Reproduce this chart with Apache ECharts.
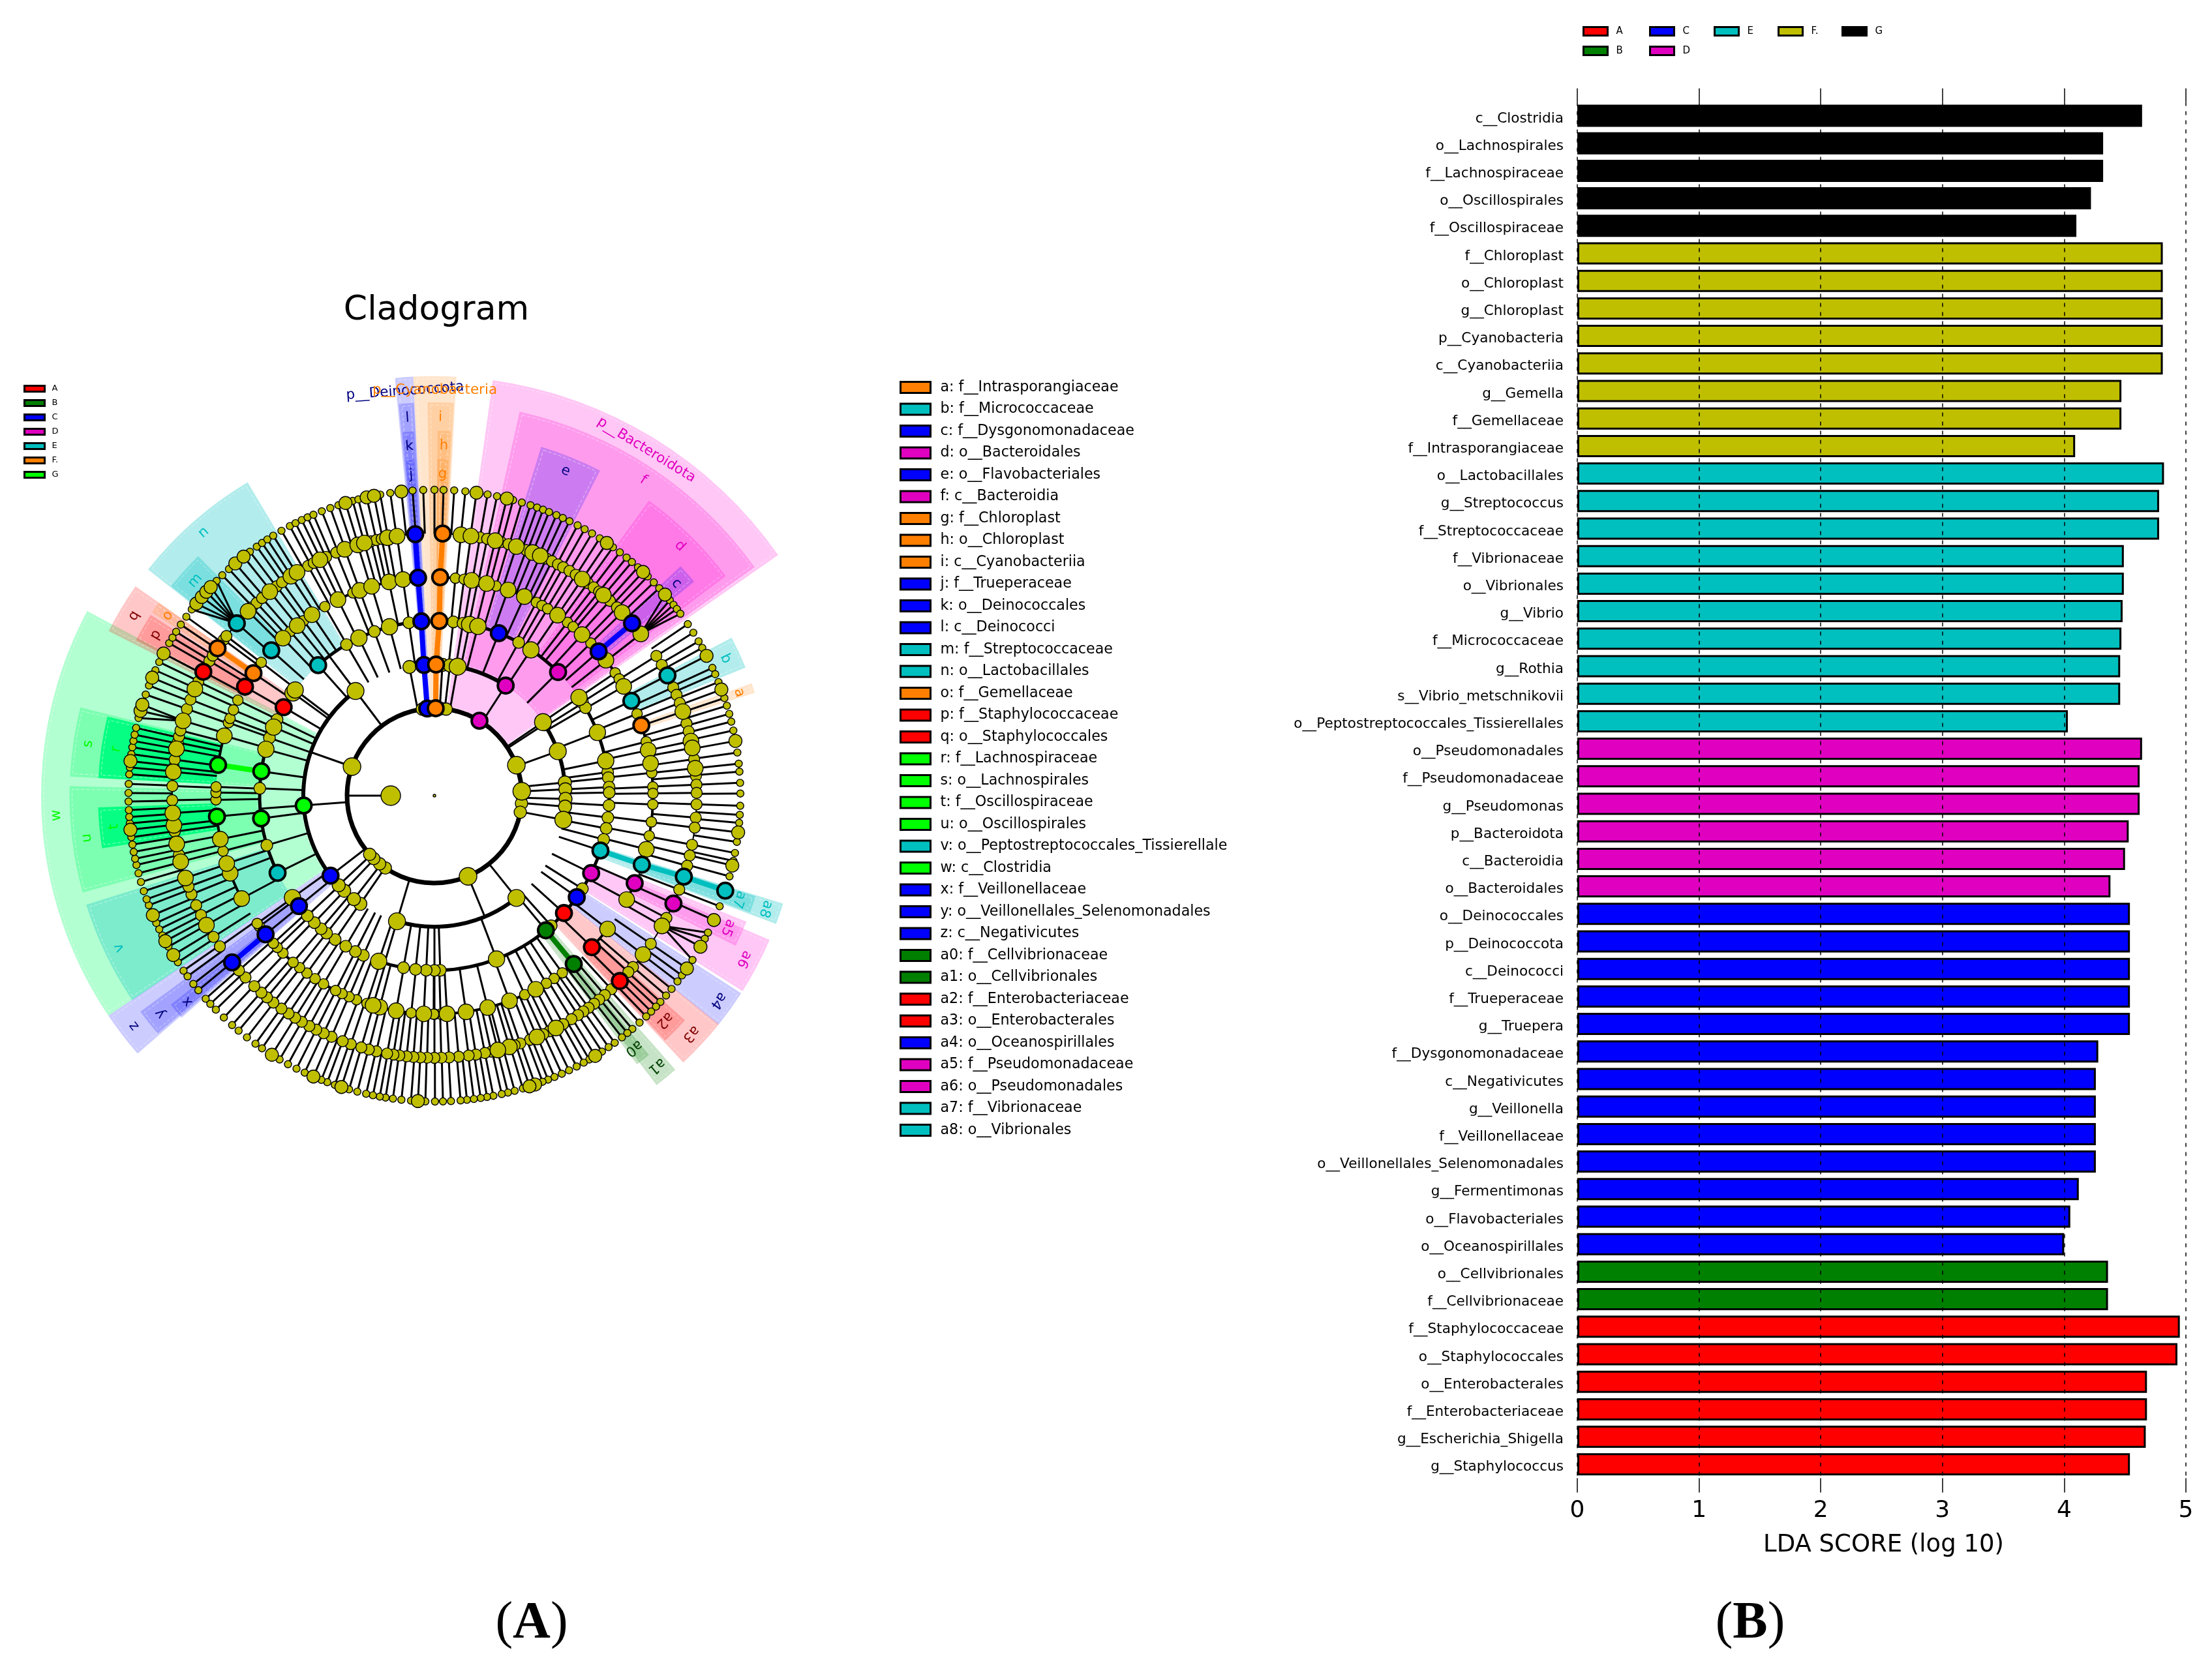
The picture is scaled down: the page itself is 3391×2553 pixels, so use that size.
<!DOCTYPE html>
<html><head><meta charset="utf-8">
<script src="https://cdn.jsdelivr.net/npm/echarts@6/dist/echarts.min.js"></script>
<style>html,body{margin:0;padding:0;background:#fff}#c{width:3391px;height:2553px}</style>
</head><body><div id="c"></div>
<script>
// ---------- LDA bar data ----------
const barNames = ['c__Clostridia','o__Lachnospirales','f__Lachnospiraceae','o__Oscillospirales','f__Oscillospiraceae','f__Chloroplast','o__Chloroplast','g__Chloroplast','p__Cyanobacteria','c__Cyanobacteriia','g__Gemella','f__Gemellaceae','f__Intrasporangiaceae','o__Lactobacillales','g__Streptococcus','f__Streptococcaceae','f__Vibrionaceae','o__Vibrionales','g__Vibrio','f__Micrococcaceae','g__Rothia','s__Vibrio_metschnikovii','o__Peptostreptococcales_Tissierellales','o__Pseudomonadales','f__Pseudomonadaceae','g__Pseudomonas','p__Bacteroidota','c__Bacteroidia','o__Bacteroidales','o__Deinococcales','p__Deinococcota','c__Deinococci','f__Trueperaceae','g__Truepera','f__Dysgonomonadaceae','c__Negativicutes','g__Veillonella','f__Veillonellaceae','o__Veillonellales_Selenomonadales','g__Fermentimonas','o__Flavobacteriales','o__Oceanospirillales','o__Cellvibrionales','f__Cellvibrionaceae','f__Staphylococcaceae','o__Staphylococcales','o__Enterobacterales','f__Enterobacteriaceae','g__Escherichia_Shigella','g__Staphylococcus'];
const barScores = [4.64,4.32,4.32,4.22,4.10,4.81,4.81,4.81,4.81,4.81,4.47,4.47,4.09,4.82,4.78,4.78,4.49,4.49,4.48,4.47,4.46,4.46,4.03,4.64,4.62,4.62,4.53,4.50,4.38,4.54,4.54,4.54,4.54,4.54,4.28,4.26,4.26,4.26,4.26,4.12,4.05,4.00,4.36,4.36,4.95,4.93,4.68,4.68,4.67,4.54];
const barGroups = ['G','G','G','G','G','F','F','F','F','F','F','F','F','E','E','E','E','E','E','E','E','E','E','D','D','D','D','D','D','C','C','C','C','C','C','C','C','C','C','C','C','C','B','B','A','A','A','A','A','A'];
const groupNames = {A:'A',B:'B',C:'C',D:'D',E:'E',F:'F.',G:'G'};
const xTicks = [0,1,2,3,4,5];

// ---------- cladogram: node angles (degrees clockwise from top) on each ring ----------
const ring7 = [0,1.7,3.7,5.8,10,11.8,14.9,16.6,18.3,19.6,20.8,22,23.5,24.8,26.2,27.9,29.4,31,32.7,35.7,37.3,38.9,40.2,41.7,44.2,45.8,47.3,50.3,51.4,52.4,53.5,55.9,57.8,59.7,61.1,65.3,66.6,68.2,71.4,72.9,74.5,76,77.7,81.9,84,85.5,87.6,89.6,91.9,93.6,95.1,98.7,100.8,102.3,105.3,111.2,116.6,117.9,122.5,126,127.4,129.2,130.8,132.4,133.6,134.9,136.2,137.9,139.7,140.9,142.2,143.9,145.3,146.8,149.6,150.8,152.3,153.9,155.4,156.9,158.2,159.3,163.2,164.8,166.1,167.3,168.9,170.1,171.3,172.6,173.9,175.1,176.9,178.4,179.9,181.7,184.4,186.2,187.8,189.2,190.3,191.6,192.9,194.6,196.2,199,200.5,201.7,205.1,206.8,208.6,210.4,214.3,215.8,217.8,219.8,221.4,223.5,225.6,227.1,228.4,230.5,232,233.8,235.1,237,240.4,242.8,244.1,245.4,249,250.2,251.8,253.6,255.3,256.9,258.1,259.4,260.8,262.2,264.8,266,267.3,268.9,270.5,272.2,274,275.3,277.8,279.1,280.3,281.5,282.8,284.7,289.3,291.1,294.2,295.9,299.9,301.1,302.4,304,305.8,307.5,314.6,316.1,317.8,322.9,324.5,325.7,326.9,328.2,330,331.8,333,334.3,335.5,336.7,338.4,340.1,341.7,344.5,345.6,349.8,351.7,355.9,357.9];
const ring7Big = [7.9,13.7,34.3,43,48.9,62.8,69.7,79.7,96.9,103.2,114,119.6,124.4,148.3,160.8,161.9,183.1,197.7,203.3,212.1,238.6,241.6,247,263.6,276.5,286.1,287.3,292.7,297.7,308.9,310.5,311.8,313,319.4,321.4,343.1,347.2,348.6,353.8];
const ring6 = [10,11.6,14.7,16.4,20.5,25.3,26.6,28.1,29.4,31,32.6,35.8,37.4,38.9,42,44.1,57.8,60.1,65.6,67.4,69.3,74,75.8,82,85.7,87.6,89.4,91.9,94.8,97,100.8,103.2,105.5,111,117.8,124.4,130.8,132.3,137.6,139.5,141.1,142.5,144,145.4,146.8,148.5,150.6,154,155.5,158.6,160.9,162.2,165.2,167.5,168.9,170.9,172.5,174.7,176.8,178.5,180,181.6,183.1,184.6,186.1,187.7,189,190.4,192.8,194.5,196.2,198.6,200.5,203.1,205,206.8,208.5,210.4,212.1,213.8,215.7,217.9,219.7,221.3,223.4,226.1,228.2,234.9,237.4,242.9,245.3,247.9,249.7,257,262.1,269,272.1,276.2,277.9,281.7,283,284.4,289.3,291.5,295.8,300.9,302.3,306.5,307.5,315.9,317.3,318.9,323,324.5,331.2,332.6,335.6,338,346,347.2,348.4];
const ring6Big = [5.8,8,13.4,18.2,22,23.8,34.3,40.1,45.7,51.9,71.3,78,79.5,84,119.8,127.3,152.4,157,163.4,166,240.4,251.7,255.4,259.4,263.5,266.2,275.2,280.3,286.6,294,314.7,321.1,326.8,328.4,334.1,340,343,344.5,349.7,351.8];
const ring5 = [5.5,7.8,11.4,16.4,27.8,29.5,31.2,37.5,39.4,45.7,55.8,57.7,68,75.7,84,87.7,89.4,92.3,96.9,100.6,144.2,146.8,149.2,155.6,178.4,180,180.2,186.1,198,200.9,203,205,206.9,210.5,213.1,215.7,218.1,220.3,223.9,226,227.5,233.2,234.2,255.3,268.9,270.8,272.3,289.5,290.7,293.1,295.9,307.6,318.7,323.2,329.9,338.1];
const ring5Big = [9.8,13.8,19.7,24.3,34.3,42.5,51.7,60,78,81.5,104.2,118.4,127.6,152.4,159.9,165.9,171.7,176.7,182.8,190.1,194.5,196.3,241.9,249.2,251.9,258.5,285.9,316.1,321.1,325.9,333.8,340,343.3,348,351.7];
const ring4 = [6.2,9.4,28.8,58,59.8,82.3,84.1,87.2,89,93.2,97.2,100.8,104.5,122.2,138.1,178.1,180,182.7,186.2,190.2,204,206.9,210.5,214.6,218.1,220.4,223.4,226.6,253.5,272.4,289.3,295.8,329.8,339.9,351.6];
const ring4Big = [11.6,14.4,33.5,55.8,68.8,78.5,159.2,198.6,234.3,285.4,293.1,306,307.2,334.4,345.1];
const ring3 = [3.5,6.8,57,84.2,87.2,91.4,94.8,214.4,217.9,223.5,226.9,349];
const ring3Big = [10.2,55.9,70.2,100.6,141.3,196.6,323];
const ring2 = [4.6,7.7,90,95.1,100.9,214.2,218.8,224,227.8,352];
const ring2Big = [69.6,87.1,157.4,289.4];
const ring1Big = [270];

// biomarker nodes: level, angle, group
const biomarkers = [[2,355.3,'C'],[3,355.4,'C'],[4,355.7,'C'],[5,355.7,'C'],[6,355.8,'C'],[2,0.8,'F'],[3,0.7,'F'],[4,1.6,'F'],[5,1.5,'F'],[6,1.8,'F'],[2,31,'D'],[3,32.9,'D'],[4,45,'D'],[4,21.6,'C'],[5,48.7,'C'],[6,48.9,'C'],[5,64.3,'E'],[6,62.7,'E'],[5,71.2,'F'],[4,108.3,'E'],[5,108.4,'E'],[6,108,'E'],[7,108.1,'E'],[4,116.3,'D'],[5,113.6,'D'],[6,114.3,'D'],[4,125.5,'C'],[4,132.2,'A'],[5,133.9,'A'],[6,135,'A'],[4,140.4,'B'],[5,140.4,'B'],[3,232.4,'C'],[4,230.8,'C'],[5,230.6,'C'],[6,230.5,'C'],[4,243.8,'E'],[3,265.7,'G'],[4,262.5,'G'],[5,264.5,'G'],[4,278,'G'],[5,278.1,'G'],[4,300.4,'A'],[5,299.9,'A'],[6,298.2,'A'],[5,304.1,'F'],[6,304.2,'F'],[4,318.3,'E'],[5,311.7,'E'],[6,311.1,'E']];

// coloured branches: level0, angle0, level1, angle1, group
const colorBranches = [[2,355.3,3,355.4,'C'],[3,355.4,4,355.7,'C'],[4,355.7,5,355.7,'C'],[5,355.7,6,355.8,'C'],[2,0.8,3,0.7,'F'],[3,0.7,4,1.6,'F'],[4,1.6,5,1.5,'F'],[5,1.5,6,1.8,'F'],[5,48.7,6,48.9,'C'],[4,108.3,5,108.4,'E'],[5,108.4,6,108,'E'],[6,108,7,108.1,'E'],[4,140.4,5,140.4,'B'],[5,230.6,6,230.5,'C'],[4,278,5,278.1,'G'],[5,304.1,6,304.2,'F']];

// arcs joining siblings: level, from, to
const arcs = [[2,0.8,355.3],[3,0.7,10.2],[3,10.2,32.9],[3,55.9,100.6],[3,141.3,196.6],[3,214.4,226.9],[3,232.4,323],[4,1.6,45],[4,55.8,140.4],[4,140.4,178.1],[4,182.7,198.6],[4,204,234.3],[4,243.8,300.4],[4,318.3,355.7],[5,1.5,48.7],[5,48.7,60],[5,64.3,108.4],[5,113.6,118.4],[5,127.6,133.9],[5,140.4,180],[5,180.2,230.6],[5,241.9,264.5],[5,278.1,295.9],[5,299.9,307.6],[5,316.1,325.9],[5,333.8,355.7],[6,1.8,48.9],[6,57.8,135],[6,135,230.5],[6,234.9,298.2],[6,304.2,311.1],[6,314.7,355.8]];

// fans: parent level, parent angle, leaf angles on next ring
const fans = [[6,311.1,[307.5,308.9,310.5,311.8,313,314.6]],[6,51.9,[48.9,50.3,51.4,52.4,53.5]],[6,286.6,[284.7,286.1,287.3]],[6,119.8,[116.6,117.9,119.6,122.5]]];
// other thin branches: level0, angle0, level1, angle1
const thinBranches = [[1,270,2,270],[2,289.4,3,289.4],[2,157.4,3,157.4],[3,196.6,4,196.6],[3,323,4,323],[3,265.7,4,265.7]];

// shaded clade sectors: label, from, to, inner level, outer level, group
const sectors = [
['p__Deinococcota',354.6,357.1,2,9.6,'C'],['l',354.8,357,3,9,'C'],['k',355,356.8,4,8.35,'C'],['j',355.1,356.6,5,7.7,'C'],
['p__Cyanobacteria',357.1,3,2,9.6,'F'],['i',359,2.8,3,9,'F'],['h',0.5,2.6,4,8.35,'F'],['g',0.5,2.4,5,7.7,'F'],
['p__Bacteroidota',8,55,2,9.6,'D'],['f',12.5,54.5,3,9,'D'],['e',17,27,4,8.35,'C'],['d',36,53,4,8.35,'D'],['c',47,50.5,5,7.7,'C'],
['b',62,67.6,5,7.7,'E'],['a',70.5,72.2,5,7.7,'F'],
['a8',107.2,110.6,4,8.35,'E'],['a7',107.4,110.3,5,7.7,'E'],['a6',113.3,122.4,4,8.35,'D'],['a5',112,116.5,5,7.7,'D'],['a4',122.8,128.9,4,8.35,'C'],['a3',128.8,137,4,8.35,'A'],['a2',131.9,136.7,5,7.7,'A'],['a1',138.7,142.5,4,8.35,'B'],['a0',140.4,143,5,7.7,'B'],
['z',229,236,3,9,'C'],['y',229.3,233.7,4,8.35,'C'],['x',228.7,231.6,5,7.7,'C'],
['w',236,298,3,9,'G'],['v',235.9,252.6,4,8.35,'E'],['u',254.6,271.5,4,8.35,'G'],['t',261,268,5,7.7,'G'],['s',273,284,4,8.35,'G'],['r',273,283.6,5,7.7,'G'],
['q',296.8,305,4,8.35,'A'],['p',297.5,302.5,5,7.7,'A'],['o',303,305,5,7.7,'F'],['n',308.3,329.2,4,8.35,'E'],['m',308.5,315.4,5,7.7,'E']];

// key of the cladogram letters
const cladeKey = [['a: f__Intrasporangiaceae','F'],['b: f__Micrococcaceae','E'],['c: f__Dysgonomonadaceae','C'],['d: o__Bacteroidales','D'],['e: o__Flavobacteriales','C'],['f: c__Bacteroidia','D'],['g: f__Chloroplast','F'],['h: o__Chloroplast','F'],['i: c__Cyanobacteriia','F'],['j: f__Trueperaceae','C'],['k: o__Deinococcales','C'],['l: c__Deinococci','C'],['m: f__Streptococcaceae','E'],['n: o__Lactobacillales','E'],['o: f__Gemellaceae','F'],['p: f__Staphylococcaceae','A'],['q: o__Staphylococcales','A'],['r: f__Lachnospiraceae','G'],['s: o__Lachnospirales','G'],['t: f__Oscillospiraceae','G'],['u: o__Oscillospirales','G'],['v: o__Peptostreptococcales_Tissierellale','E'],['w: c__Clostridia','G'],['x: f__Veillonellaceae','C'],['y: o__Veillonellales_Selenomonadales','C'],['z: c__Negativicutes','C'],['a0: f__Cellvibrionaceae','B'],['a1: o__Cellvibrionales','B'],['a2: f__Enterobacteriaceae','A'],['a3: o__Enterobacterales','A'],['a4: o__Oceanospirillales','C'],['a5: f__Pseudomonadaceae','D'],['a6: o__Pseudomonadales','D'],['a7: f__Vibrionaceae','E'],['a8: o__Vibrionales','E']];

// ---------- styling ----------
const FONT = 'DejaVu Sans';
const barColor = {A:'#ff0000',B:'#008000',C:'#0000ff',D:'#e000c0',E:'#00bfbf',F:'#bfbf00',G:'#000000'};
const cladeColor = {A:'#ff0000',B:'#007f00',C:'#0000ff',D:'#e000c0',E:'#00bfbf',F:'#ff7f00',G:'#00ff00'};
const shadeColor = {A:'#ff0000',B:'#007f00',C:'#0000ff',D:'#ff00d0',E:'#00bfbf',F:'#ff7f00',G:'#00ff66'};
const shadeAlpha = {A:0.22,B:0.22,C:0.2,D:0.22,E:0.3,F:0.2,G:0.3};
const labelColor = {A:'#800000',B:'#004000',C:'#000080',D:'#e000c0',E:'#00bfbf',F:'#ff7f00',G:'#00ff00'};
const OLIVE = '#bfbf00';
const arcWidth = {2:7,3:6,4:5,5:4,6:2};
const smallSize = {2:19,3:20,4:18,5:16,6:17,7:11};
const bigSize = {1:30,2:27,3:26,4:25,5:24,6:24,7:20};

const rad = a => (a-90)*Math.PI/180;
function pxR(api,l){const c=api.coord([0,0]),p=api.coord([l,0]);return Math.hypot(p[0]-c[0],p[1]-c[1]);}

// sector layer
const sectorData = sectors.map(s=>{const a1=s[2]<s[1]?s[2]+360:s[2];return [s[3],s[1],s[4],a1];});
const sectorSeries = {type:'custom',coordinateSystem:'polar',silent:true,clip:false,z:1,data:sectorData,
  renderItem:(p,api)=>{const s=sectors[p.dataIndex],c=p.coordSys,r0=pxR(api,api.value(0)),r=pxR(api,api.value(2)),a0=api.value(1),a1=api.value(3);
    const strong=(s[5]==='G'&&s[3]===5);
    const inset=3/r;
    return {type:'group',children:[
      {type:'sector',shape:{cx:c.cx,cy:c.cy,r0,r,startAngle:rad(a0),endAngle:rad(a1),clockwise:true},style:{fill:strong?'#00ff80':shadeColor[s[5]],opacity:strong?0.95:shadeAlpha[s[5]]}},
      {type:'sector',shape:{cx:c.cx,cy:c.cy,r0:r0+4,r:r-4,startAngle:rad(a0)+inset*1.6,endAngle:rad(a1)-inset*1.6,clockwise:true},style:{fill:'none',stroke:'#fff',lineWidth:1,lineDash:[5,3],opacity:0.5}}
    ]};}};

// arc layer
const arcSeries = {type:'custom',coordinateSystem:'polar',silent:true,clip:false,z:2,data:arcs,
  renderItem:(p,api)=>{const c=p.coordSys,l=api.value(0);return {type:'arc',shape:{cx:c.cx,cy:c.cy,r:pxR(api,l),startAngle:rad(api.value(1)),endAngle:rad(api.value(2)),clockwise:true},style:{fill:'none',stroke:'#000',lineWidth:arcWidth[l]}};}};

// spokes: every node to the ring below, except fan leaves which meet their parent
const fanLeaves = new Set(fans.flatMap(f=>f[2]));
const allRings = {3:ring3.concat(ring3Big),4:ring4.concat(ring4Big),5:ring5.concat(ring5Big),6:ring6.concat(ring6Big),7:ring7.concat(ring7Big)};
biomarkers.forEach(b=>{if(b[0]>=3)allRings[b[0]].push(b[1]);});
const spokeData = [];
for(const k of [3,4,5,6,7]){allRings[k].forEach(a=>{if(!(k===7&&fanLeaves.has(a)))spokeData.push([k-1,a,k,a]);});}
fans.forEach(f=>f[2].forEach(a=>spokeData.push([f[0],f[1],f[0]+1,a])));
thinBranches.forEach(t=>spokeData.push(t));
const spokeSeries = {type:'custom',coordinateSystem:'polar',silent:true,clip:false,z:2,data:spokeData,
  renderItem:(p,api)=>{const a=api.coord([api.value(0),api.value(1)]),b=api.coord([api.value(2),api.value(3)]);return {type:'line',shape:{x1:a[0],y1:a[1],x2:b[0],y2:b[1]},style:{stroke:'#000',lineWidth:3}};}};
const branchSeries = {type:'custom',coordinateSystem:'polar',silent:true,clip:false,z:3,data:colorBranches.map(b=>b.slice(0,4)),
  renderItem:(p,api)=>{const a=api.coord([api.value(0),api.value(1)]),b=api.coord([api.value(2),api.value(3)]);return {type:'line',shape:{x1:a[0],y1:a[1],x2:b[0],y2:b[1]},style:{stroke:cladeColor[colorBranches[p.dataIndex][4]],lineWidth:8}};}};

// nodes
function nodeSeries(level,angles,size){return {type:'scatter',coordinateSystem:'polar',silent:true,clip:false,z:4,symbol:'circle',symbolSize:size,data:angles.map(a=>[level,a]),itemStyle:{color:OLIVE,borderColor:'#000',borderWidth:1.4,opacity:1}};}
const nodes = [
 nodeSeries(7,ring7,smallSize[7]),nodeSeries(7,ring7Big,bigSize[7]),
 nodeSeries(6,ring6,smallSize[6]),nodeSeries(6,ring6Big,bigSize[6]),
 nodeSeries(5,ring5,smallSize[5]),nodeSeries(5,ring5Big,bigSize[5]),
 nodeSeries(4,ring4,smallSize[4]),nodeSeries(4,ring4Big,bigSize[4]),
 nodeSeries(3,ring3,smallSize[3]),nodeSeries(3,ring3Big,bigSize[3]),
 nodeSeries(2,ring2,smallSize[2]),nodeSeries(2,ring2Big,bigSize[2]),
 nodeSeries(1,ring1Big,bigSize[1]),
 nodeSeries(0,[0],4)];
const biomarkerSeries = {type:'scatter',coordinateSystem:'polar',silent:true,clip:false,z:5,symbol:'circle',
  symbolSize:24,data:biomarkers.map(b=>({value:[b[0],b[1]],itemStyle:{color:cladeColor[b[2]]}})),itemStyle:{borderColor:'#000',borderWidth:3.8,opacity:1}};

// clade labels
const labelSeries = {type:'custom',coordinateSystem:'polar',silent:true,clip:false,z:6,
  data:sectors.map(s=>{const a1=s[2]<s[1]?s[2]+360:s[2];return [s[4]-(s[0].length>3?0.32:0.34),(s[1]+a1)/2];}),
  renderItem:(p,api)=>{const s=sectors[p.dataIndex],a=api.value(1),q=api.coord([api.value(0),a]);
    return {type:'text',x:q[0],y:q[1],rotation:-a*Math.PI/180,style:{text:s[0],fill:labelColor[s[5]],fontFamily:FONT,fontSize:21.5,align:'center',verticalAlign:'middle'}};}};

// legends use empty series carrying their names
const dummy = n => ({type:'scatter',name:n,coordinateSystem:'polar',data:[]});
const legendItem = (name,color) => ({name,icon:'rect',itemStyle:{color,borderColor:'#000',borderWidth:3,opacity:1}});
const groupKeys = ['A','B','C','D','E','F','G'];
const miniLegend = {orient:'vertical',left:36,top:589,itemWidth:31,itemHeight:9,itemGap:8,selectedMode:false,padding:0,
  textStyle:{fontFamily:FONT,fontSize:13,color:'#000',lineHeight:14,padding:[0,0,0,6]},data:groupKeys.map(k=>legendItem(groupNames[k],cladeColor[k]))};
const keyLegend = {orient:'vertical',left:1379,top:583,itemWidth:46,itemHeight:17,itemGap:11.5,selectedMode:false,padding:0,
  textStyle:{fontFamily:FONT,fontSize:22.2,color:'#000',lineHeight:20,padding:[0,0,0,10]},data:cladeKey.map(k=>legendItem(k[0],cladeColor[k[1]]))};
const barLegendColumns = [[2426,['A','B']],[2528,['C','D']],[2627,['E']],[2725,['F']],[2823,['G']]];
const barLegends = barLegendColumns.map(c=>({orient:'vertical',left:c[0],top:40,itemWidth:37,itemHeight:13,itemGap:14,selectedMode:false,padding:0,
  textStyle:{fontFamily:FONT,fontSize:15,color:'#000',lineHeight:14,padding:[0,0,0,8]},data:c[1].map(k=>legendItem(groupNames[k],barColor[k]))}));

const parenRich = {p:{fontFamily:'Liberation Serif',fontSize:80,fontWeight:'normal',color:'#000'},b:{fontFamily:'Liberation Serif',fontSize:80,fontWeight:'bold',color:'#000'}};
const option = {
  backgroundColor:'#fff',animation:false,
  title:[
    {text:'Cladogram',left:664,top:445,textAlign:'center',textStyle:{fontFamily:FONT,fontSize:52,fontWeight:'normal',color:'#000'}},
    {text:'{p|(}{b|A}{p|)}',left:810,top:2445,textAlign:'center',textStyle:{rich:parenRich}},
    {text:'{p|(}{b|B}{p|)}',left:2678,top:2445,textAlign:'center',textStyle:{rich:parenRich}}
  ],
  legend:[miniLegend,keyLegend,...barLegends],
  polar:{center:[666,1220],radius:[0,670]},
  angleAxis:{type:'value',min:0,max:360,startAngle:90,clockwise:true,show:false},
  radiusAxis:{type:'value',min:0,max:10,show:false},
  grid:{left:2418,top:156.4,width:933,height:2110,containLabel:false},
  xAxis:[
   {type:'value',min:0,max:5,interval:1,position:'bottom',z:5,
    axisLine:{show:false},axisTick:{show:true,length:22,lineStyle:{color:'#000',width:1.5}},
    axisLabel:{fontFamily:FONT,fontSize:36,color:'#000',margin:32,formatter:v=>xTicks.includes(v)?String(v):''},
    splitLine:{show:true,lineStyle:{color:'#000',width:1.5,type:[6,8]}},
    name:'LDA SCORE (log 10)',nameLocation:'middle',nameGap:84,nameMoveOverlap:false,nameTextStyle:{fontFamily:FONT,fontSize:37,color:'#000',padding:[0,0,0,6]}},
   {type:'value',min:0,max:5,interval:1,position:'top',z:5,
    axisLine:{show:false},axisTick:{show:true,length:21,lineStyle:{color:'#000',width:1.5}},axisLabel:{show:false},splitLine:{show:false}}
  ],
  yAxis:{type:'category',inverse:true,data:barNames,axisLine:{show:false},axisTick:{show:false},
    axisLabel:{fontFamily:FONT,fontSize:21.6,color:'#000',margin:21,interval:0,verticalAlign:'top',lineHeight:9}},
  series:[
    {type:'bar',name:'LDA',barWidth:34,z:2,xAxisIndex:0,yAxisIndex:0,silent:true,
     data:barScores.map((v,i)=>({value:v,itemStyle:{color:barColor[barGroups[i]],borderColor:'#000',borderWidth:3}}))},
    sectorSeries,arcSeries,spokeSeries,branchSeries,...nodes,biomarkerSeries,labelSeries,
    ...['A','B','C','D','E','F.','G'].map(dummy),
    ...cladeKey.map(k=>dummy(k[0]))
  ]
};
const chart = echarts.init(document.getElementById('c'),null,{renderer:'canvas',width:3391,height:2553});
chart.setOption(option);
</script></body></html>
